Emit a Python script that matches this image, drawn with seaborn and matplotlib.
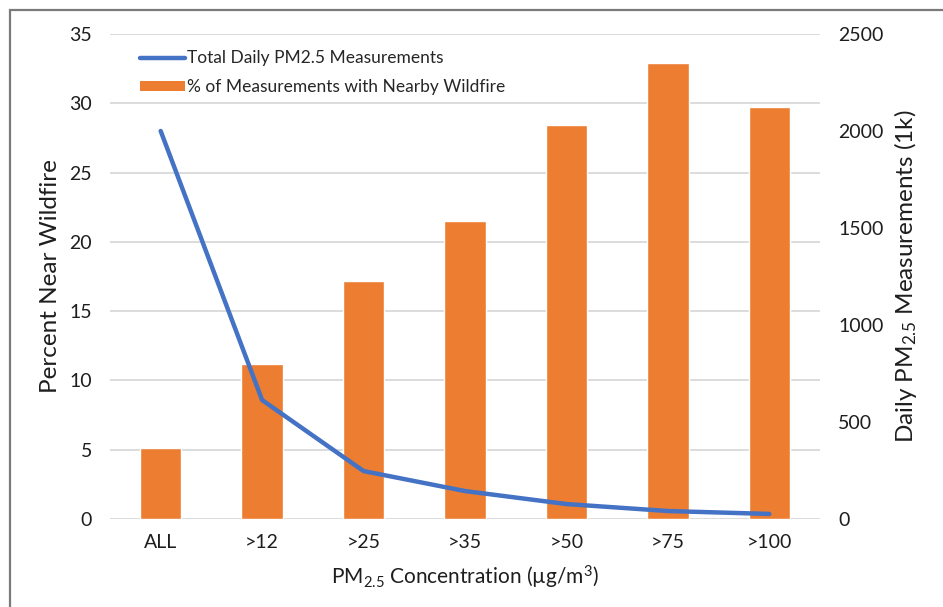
import matplotlib
matplotlib.use("Agg")
import matplotlib.pyplot as plt
from matplotlib.patches import Rectangle
from matplotlib.lines import Line2D
from matplotlib.patches import Patch
import seaborn as sns
import pandas as pd

# PM2.5 concentration thresholds
categories = ["ALL", ">12", ">25", ">35", ">50", ">75", ">100"]
# share of daily measurements with a wildfire nearby (%)
pct_near_wildfire = [5.1, 11.2, 17.2, 21.5, 28.4, 32.9, 29.7]
# total daily PM2.5 measurements (thousands)
total_measurements = [2000, 613, 247, 144, 77, 41, 26]

left_ticks = [0, 5, 10, 15, 20, 25, 30, 35]
right_ticks = [0, 500, 1000, 1500, 2000, 2500]

sns.set_theme(style="white")
plt.rcParams["font.family"] = ["Lato", "DejaVu Sans"]
plt.rcParams["mathtext.fontset"] = "custom"
plt.rcParams["mathtext.rm"] = "Lato"
plt.rcParams["mathtext.it"] = "Lato:italic"

BLUE = "#4472C4"
ORANGE = "#ED7D31"
GRID = "#D9D9D9"
TXT = "#1E1E1E"

df = pd.DataFrame({"cat": categories, "pct": pct_near_wildfire,
                   "total": total_measurements})

fig = plt.figure(figsize=(9.43, 6.07), dpi=100)
ax = fig.add_axes([0.1166, 0.145, 0.7530, 0.799])

sns.barplot(data=df, x="cat", y="pct", color=ORANGE, saturation=1,
            width=0.41, ax=ax, zorder=2)
ax.set_ylim(0, 35)
ax.set_yticks(left_ticks)
ax.set_xlim(-0.5, len(categories) - 0.5)
ax.yaxis.grid(True, color=GRID, linewidth=1.3, zorder=0)
ax.set_axisbelow(True)
for s in ax.spines.values():
    s.set_visible(False)
ax.tick_params(axis="both", length=0, labelsize=14, labelcolor=TXT)
ax.tick_params(axis="y", pad=13)
ax.tick_params(axis="x", pad=11)
ax.set_xlabel(r"PM$_{2.5}$ Concentration (µg/m$^3$)", fontsize=15,
              color=TXT, labelpad=9)
ax.set_ylabel("Percent Near Wildfire", fontsize=17.5, color=TXT, labelpad=6)

ax2 = ax.twinx()
sns.lineplot(data=df, x="cat", y="total", color=BLUE, linewidth=3.2,
             sort=False, ax=ax2, zorder=3)
ax2.set_ylim(0, 2500)
ax2.set_yticks(right_ticks)
ax2.set_xlim(-0.5, len(categories) - 0.5)
for s in ax2.spines.values():
    s.set_visible(False)
ax2.tick_params(axis="y", length=0, labelsize=14, labelcolor=TXT, pad=13)
ax2.set_ylabel(r"Daily PM$_{2.5}$ Measurements (1k)", fontsize=17.5,
               color=TXT, labelpad=6)
ax2.grid(False)

handles = [Line2D([0], [0], color=BLUE, linewidth=3.2),
           Patch(facecolor=ORANGE, edgecolor="none")]
labels = ["Total Daily PM2.5 Measurements",
          "% of Measurements with Nearby Wildfire"]
ax2.legend(handles, labels, loc="upper left",
           bbox_to_anchor=(30 / 710, 0.966),
           frameon=False, fontsize=12.5, handlelength=2.6, handleheight=0.5,
           handletextpad=0.1, labelspacing=0.72, borderpad=0,
           borderaxespad=0)

# outer chart frame
fig.patches.append(Rectangle((10 / 943, -0.05), 1.2, 1 - 10 / 607 + 0.05,
                             transform=fig.transFigure, fill=False,
                             edgecolor="#7A7A7A", linewidth=1.6))

fig.savefig("out.png", dpi=100)
